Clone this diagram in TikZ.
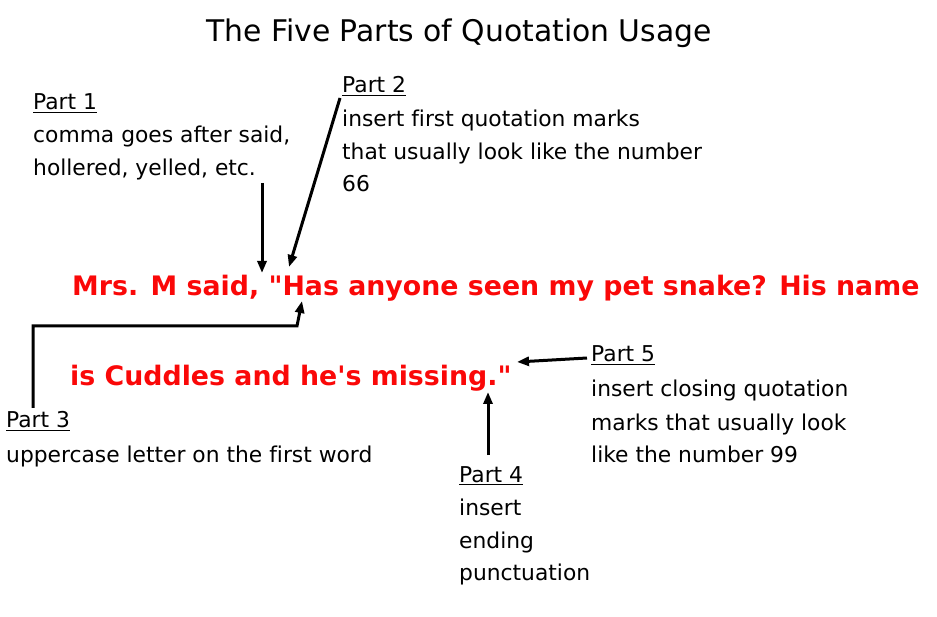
\documentclass[tikz,border=0pt]{standalone}
\usepackage{fontspec}
\setmainfont{DejaVu Sans}[Ligatures={TeXOff,NoCommon}]
\usetikzlibrary{arrows.meta}
\definecolor{quotered}{RGB}{250,8,8}
\begin{document}
\begin{tikzpicture}[x=1pt,y=-1pt,
  lbl/.style={anchor=base west, inner sep=0pt, font=\fontsize{21.8}{26}\selectfont},
  ttl/.style={anchor=base, inner sep=0pt, font=\fontsize{29.8}{34}\selectfont},
  quote/.style={anchor=base west, inner sep=0pt, text=quotered, font=\bfseries\fontsize{26.8}{30}\selectfont},
  arr/.style={line width=3pt, -{Stealth[length=12pt,width=9pt,inset=0pt]}}
]
\useasboundingbox (0,0) rectangle (937,617);

\node[ttl] (title) at (459,42) {The Five Parts of Quotation Usage};

% Part 1
\node[lbl] (p1h) at (33,110) {\underline{Part 1}};
\node[lbl] (p1a) at (33,143) {comma goes after said,};
\node[lbl] (p1b) at (33,176) {hollered, yelled, etc.};

% Part 2
\node[lbl] (p2h) at (342,93) {\underline{Part 2}};
\node[lbl] (p2a) at (342,127) {insert first quotation marks};
\node[lbl] (p2b) at (342,160) {that usually look like the number};
\node[lbl] (p2c) at (342,192) {66};

% Quote
\node[quote] (q1) at (72,296) {Mrs. M said, "Has anyone seen my pet snake? His name};
\node[quote] (q2) at (70,385) {is Cuddles and he's missing."};

% Part 3
\node[lbl] (p3h) at (6,428) {\underline{Part 3}};
\node[lbl] (p3a) at (6,462) {uppercase letter on the first word};

% Part 4
\node[lbl] (p4h) at (459,482) {\underline{Part 4}};
\node[lbl] (p4a) at (459,515) {insert};
\node[lbl] (p4b) at (459,548) {ending};
\node[lbl] (p4c) at (459,580) {punctuation};

% Part 5
\node[lbl] (p5h) at (591,362) {\underline{Part 5}};
\node[lbl] (p5a) at (591,397) {insert closing quotation};
\node[lbl] (p5b) at (591,430) {marks that usually look};
\node[lbl] (p5c) at (591,462) {like the number 99};

% connector end points
\coordinate (a1s) at (262,183);
\coordinate (a1e) at (262,273);
\coordinate (a2s) at (340,98);
\coordinate (a2e) at (289,267);
\coordinate (a3s) at (33,408);
\coordinate (a3b) at (33,326);
\coordinate (a3c) at (297,326);
\coordinate (a3e) at (302,301);
\coordinate (a4s) at (488,455);
\coordinate (a4e) at (488,392);
\coordinate (a5s) at (587,358);
\coordinate (a5e) at (517,362);

\draw[arr] (a1s) -- (a1e);
\draw[arr] (a2s) -- (a2e);
\draw[arr] (a3s) -- (a3b) -- (a3c) -- (a3e);
\draw[arr] (a4s) -- (a4e);
\draw[arr] (a5s) -- (a5e);
\end{tikzpicture}
\end{document}
